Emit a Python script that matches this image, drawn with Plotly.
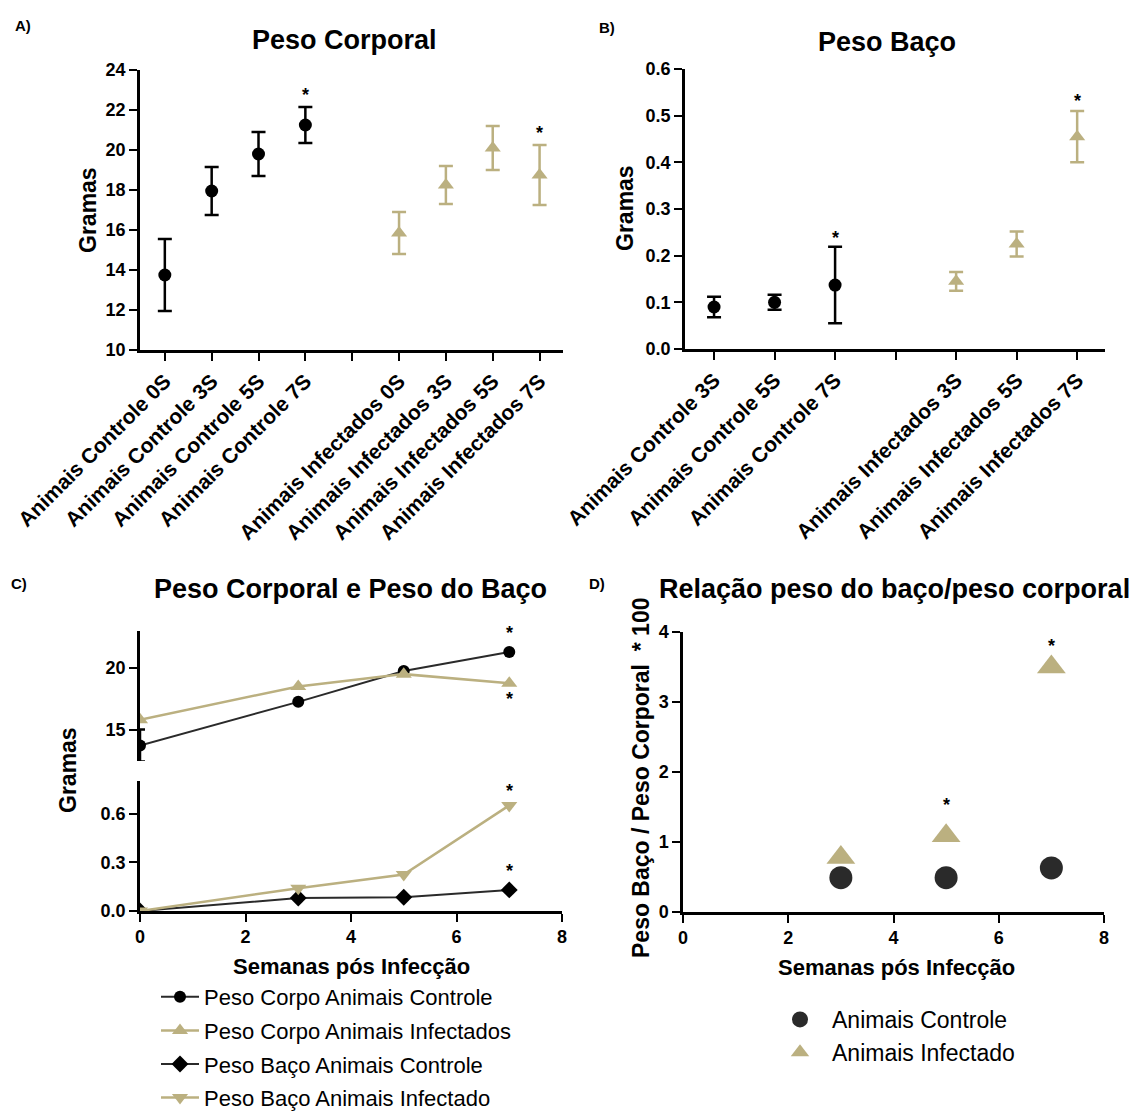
import plotly.graph_objects as go

W, H = 1134, 1111


def px(x):
    return x / W


def py(y):
    return 1 - y / H


KHAKI = "#BBB080"
BLACK = "#000000"
DARK = "#2a2a2a"
FONT = "Liberation Sans"

# ---------------- Panel A: Peso Corporal ----------------
a_categories = ["Animais Controle 0S", "Animais Controle 3S", "Animais Controle 5S",
                "Animais Controle 7S", " ", "Animais Infectados 0S",
                "Animais Infectados 3S", "Animais Infectados 5S", "Animais Infectados 7S"]
a_ctrl_cat = a_categories[:4]
a_ctrl_mean = [13.75, 17.95, 19.8, 21.25]
a_ctrl_err = [1.8, 1.2, 1.1, 0.9]
a_inf_cat = a_categories[5:]
a_inf_mean = [15.85, 18.25, 20.1, 18.75]
a_inf_err = [1.05, 0.95, 1.1, 1.5]
a_star_cat = ["Animais Controle 7S", "Animais Infectados 7S"]
a_star_y = [22.75, 20.85]

# ---------------- Panel B: Peso Baço ----------------
b_categories = ["Animais Controle 3S", "Animais Controle 5S", "Animais Controle 7S", " ",
                "Animais Infectados 3S", "Animais Infectados 5S", "Animais Infectados 7S"]
b_ctrl_cat = b_categories[:3]
b_ctrl_mean = [0.09, 0.1, 0.137]
b_ctrl_err = [0.022, 0.016, 0.082]
b_inf_cat = b_categories[4:]
b_inf_mean = [0.145, 0.225, 0.455]
b_inf_err = [0.02, 0.027, 0.055]
b_star_cat = ["Animais Controle 7S", "Animais Infectados 7S"]
b_star_y = [0.238, 0.532]

# ---------------- Panel C: Peso Corporal e Peso do Baço ----------------
c_weeks = [0, 3, 5, 7]
c_body_ctrl = [13.7, 17.25, 19.75, 21.3]
c_body_ctrl_err = [1.3, 0, 0, 0]
c_body_inf = [15.8, 18.5, 19.5, 18.75]
c_spleen_ctrl = [0.0, 0.08, 0.085, 0.13]
c_spleen_inf = [0.0, 0.14, 0.225, 0.65]
c_star_body_x = [7, 7]
c_star_body_y = [22.85, 17.5]
c_star_spleen_x = [7, 7]
c_star_spleen_y = [0.74, 0.245]

# ---------------- Panel D: Relação peso do baço/peso corporal ----------------
d_weeks = [3, 5, 7]
d_ctrl = [0.49, 0.49, 0.63]
d_inf = [0.78, 1.09, 3.5]
d_star_x = [5, 7]
d_star_y = [1.53, 3.8]

fig = go.Figure()

err_style = dict(type="data", thickness=2.5, width=7)

# Panel A traces
fig.add_trace(go.Scatter(x=a_ctrl_cat, y=a_ctrl_mean, mode="markers",
                         marker=dict(symbol="circle", size=13, color=BLACK),
                         error_y=dict(array=a_ctrl_err, color=BLACK, **err_style),
                         xaxis="x", yaxis="y", showlegend=False))
fig.add_trace(go.Scatter(x=a_inf_cat, y=a_inf_mean, mode="markers",
                         marker=dict(symbol="triangle-up", size=14, color=KHAKI),
                         error_y=dict(array=a_inf_err, color=KHAKI, **err_style),
                         xaxis="x", yaxis="y", showlegend=False))

# Panel B traces
fig.add_trace(go.Scatter(x=b_ctrl_cat, y=b_ctrl_mean, mode="markers",
                         marker=dict(symbol="circle", size=13, color=BLACK),
                         error_y=dict(array=b_ctrl_err, color=BLACK, **err_style),
                         xaxis="x2", yaxis="y2", showlegend=False))
fig.add_trace(go.Scatter(x=b_inf_cat, y=b_inf_mean, mode="markers",
                         marker=dict(symbol="triangle-up", size=14, color=KHAKI),
                         error_y=dict(array=b_inf_err, color=KHAKI, **err_style),
                         xaxis="x2", yaxis="y2", showlegend=False))

# Panel C traces
fig.add_trace(go.Scatter(x=c_weeks, y=c_body_ctrl, mode="lines+markers",
                         name="Peso Corpo Animais Controle",
                         line=dict(color=DARK, width=2),
                         marker=dict(symbol="circle", size=12, color=BLACK),
                         error_y=dict(array=c_body_ctrl_err, color=BLACK, type="data",
                                      thickness=2.5, width=5),
                         xaxis="x4", yaxis="y4", legend="legend", legendgroup="g1"))
fig.add_trace(go.Scatter(x=c_weeks, y=c_body_inf, mode="lines+markers",
                         name="Peso Corpo Animais Infectados",
                         line=dict(color=KHAKI, width=2.5),
                         marker=dict(symbol="triangle-up", size=14, color=KHAKI),
                         xaxis="x4", yaxis="y4", legend="legend", legendgroup="g2"))
fig.add_trace(go.Scatter(x=c_weeks, y=c_spleen_ctrl, mode="lines+markers",
                         name="Peso Baço Animais Controle",
                         line=dict(color=DARK, width=2),
                         marker=dict(symbol="diamond", size=13, color=BLACK),
                         xaxis="x3", yaxis="y3", legend="legend", legendgroup="g3"))
fig.add_trace(go.Scatter(x=c_weeks, y=c_spleen_inf, mode="lines+markers",
                         name="Peso Baço Animais Infectado",
                         line=dict(color=KHAKI, width=2.5),
                         marker=dict(symbol="triangle-down", size=14, color=KHAKI),
                         xaxis="x3", yaxis="y3", legend="legend", legendgroup="g4"))

# Panel D traces
fig.add_trace(go.Scatter(x=d_weeks, y=d_ctrl, mode="markers", name="Animais Controle",
                         marker=dict(symbol="circle", size=23, color=DARK),
                         xaxis="x5", yaxis="y5", legend="legend2"))
fig.add_trace(go.Scatter(x=d_weeks, y=d_inf, mode="markers", name="Animais Infectado",
                         marker=dict(symbol="triangle-up", size=25, color=KHAKI),
                         xaxis="x5", yaxis="y5", legend="legend2"))

tickfont = dict(family=FONT, size=18, color=BLACK, weight="bold")
axis_common = dict(showline=True, linewidth=2.5, linecolor=BLACK, showgrid=False,
                   zeroline=False, ticks="outside", ticklen=8, tickwidth=2.2,
                   tickcolor=BLACK, tickfont=tickfont, automargin=False)
cat_tickfont = dict(family=FONT, size=21, color=BLACK, weight="bold")
axis_cat = {k: v for k, v in axis_common.items() if k != "tickfont"}

layout = dict(
    width=W, height=H, margin=dict(l=0, r=0, t=0, b=0, autoexpand=False),
    paper_bgcolor="white", plot_bgcolor="white",
    font=dict(family=FONT, color=BLACK),
    xaxis=dict(domain=[px(140), px(563)], anchor="y", type="category",
               categoryorder="array", categoryarray=a_categories,
               range=[-0.53, 8.5], tickangle=-45, tickfont=cat_tickfont, **axis_cat),
    yaxis=dict(domain=[py(350), py(70)], anchor="x", range=[10, 24], dtick=2,
               **axis_common),
    xaxis2=dict(domain=[px(685), px(1105)], anchor="y2", type="category",
                categoryorder="array", categoryarray=b_categories,
                range=[-0.48, 6.46], tickangle=-45, tickfont=cat_tickfont, **axis_cat),
    yaxis2=dict(domain=[py(349), py(69)], anchor="x2", range=[0, 0.6], dtick=0.1,
                tickformat=".1f", **axis_common),
    xaxis3=dict(domain=[px(140), px(562)], anchor="y3", range=[0, 8], dtick=2,
                **axis_common),
    yaxis3=dict(domain=[py(911), py(781)], anchor="x3", range=[0, 0.8],
                tickvals=[0, 0.3, 0.6], tickformat=".1f", **axis_common),
    xaxis4=dict(domain=[px(140), px(562)], anchor="y4", range=[0, 8],
                matches="x3", visible=False, automargin=False),
    yaxis4=dict(domain=[py(761), py(631)], anchor="x4", range=[12.45, 23.0],
                tickvals=[15, 20], **axis_common),
    xaxis5=dict(domain=[px(683), px(1104)], anchor="y5", range=[0, 8], dtick=2,
                **axis_common),
    yaxis5=dict(domain=[py(912), py(632)], anchor="x5", range=[0, 4], dtick=1,
                **axis_common),
    legend=dict(x=px(156), y=py(976), xanchor="left", yanchor="top",
                font=dict(family=FONT, size=22, color=BLACK), itemwidth=38,
                tracegroupgap=2, bgcolor="rgba(0,0,0,0)"),
    legend2=dict(x=px(768), y=py(998), xanchor="left", yanchor="top",
                 font=dict(family=FONT, size=23, color=BLACK), itemwidth=54,
                 bgcolor="rgba(0,0,0,0)", itemsizing="trace"),
)
fig.update_layout(**layout)

ann = []


def text(x, y, s, size, angle=0, bold=True, xanchor="center", yanchor="middle"):
    ann.append(dict(x=px(x), y=py(y), xref="paper", yref="paper", text=s,
                    showarrow=False, textangle=angle, xanchor=xanchor, yanchor=yanchor,
                    font=dict(family=FONT, size=size, color=BLACK,
                              weight="bold" if bold else "normal")))


# panel labels and titles
text(13, 25, "A)", 15, xanchor="left")
text(597, 28, "B)", 15, xanchor="left")
text(9, 583, "C)", 15, xanchor="left")
text(587, 583, "D)", 15, xanchor="left")
text(344, 40, "Peso Corporal", 27)
text(887, 42, "Peso Baço", 27)
text(350, 589, "Peso Corporal e Peso do Baço", 27)
text(894, 589, "Relação peso do baço/peso corporal", 27)
# axis titles
text(88, 210, "Gramas", 23, angle=-90)
text(625, 208, "Gramas", 23, angle=-90)
text(68, 770, "Gramas", 23, angle=-90)
text(641, 778, "Peso Baço / Peso Corporal  * 100", 23, angle=-90)
text(351, 966, "Semanas pós Infecção", 22)
text(896, 967, "Semanas pós Infecção", 22)

# significance asterisks
star_font = dict(family=FONT, size=18, color=BLACK)
for cx, cy in zip(a_star_cat, a_star_y):
    ann.append(dict(x=cx, y=cy, xref="x", yref="y", text="<b>*</b>", showarrow=False,
                    font=star_font))
for cx, cy in zip(b_star_cat, b_star_y):
    ann.append(dict(x=cx, y=cy, xref="x2", yref="y2", text="<b>*</b>", showarrow=False,
                    font=star_font))
for cx, cy in zip(c_star_body_x, c_star_body_y):
    ann.append(dict(x=cx, y=cy, xref="x4", yref="y4", text="<b>*</b>", showarrow=False,
                    font=star_font))
for cx, cy in zip(c_star_spleen_x, c_star_spleen_y):
    ann.append(dict(x=cx, y=cy, xref="x3", yref="y3", text="<b>*</b>", showarrow=False,
                    font=star_font))
for cx, cy in zip(d_star_x, d_star_y):
    ann.append(dict(x=cx, y=cy, xref="x5", yref="y5", text="<b>*</b>", showarrow=False,
                    font=star_font))

fig.update_layout(annotations=ann)
fig.write_html("out.html")
